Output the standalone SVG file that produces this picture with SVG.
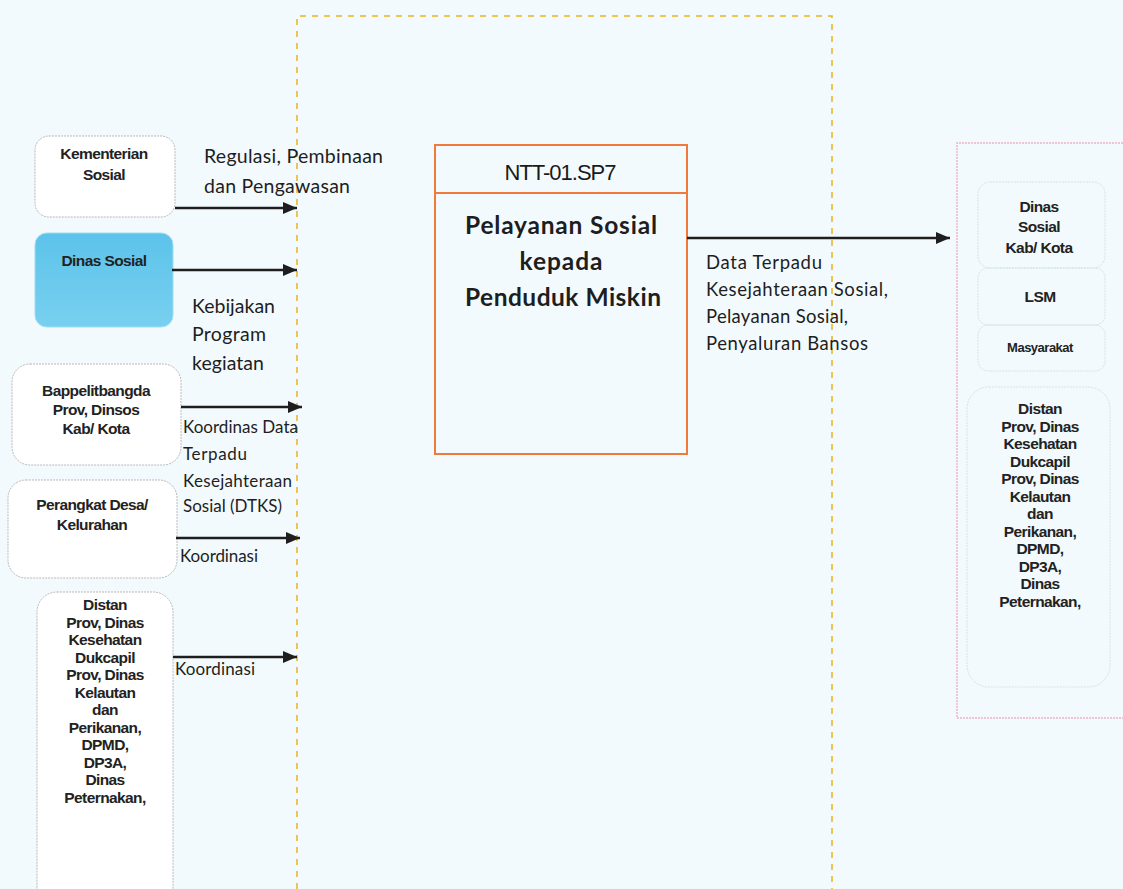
<svg xmlns="http://www.w3.org/2000/svg" width="1123" height="889" viewBox="0 0 1123 889">
  <defs>
    <marker id="arrow" viewBox="0 0 14 12" refX="14" refY="6" markerWidth="14" markerHeight="12" markerUnits="userSpaceOnUse" orient="auto">
      <path d="M0,0 L14,6 L0,12 Z" fill="#1e1e1e"/>
    </marker>
    <linearGradient id="blueFill" x1="0" y1="0" x2="0" y2="1">
      <stop offset="0" stop-color="#5cc3ea"/>
      <stop offset="1" stop-color="#78d0ef"/>
    </linearGradient>
  </defs>
  <style>
    .actor { fill: #ffffff; stroke: #b9b9b9; stroke-width: 1; stroke-dasharray: 2 1; }
    .actor-blue { fill: url(#blueFill); stroke: #9fdcf2; stroke-width: 1; }
    .sub { fill: none; stroke: #d3e3e8; stroke-width: 1; stroke-dasharray: 2 1; }
    .node-text { font-family: "Liberation Sans", Arial, sans-serif; font-size: 15.5px; fill: #222; text-anchor: middle; letter-spacing: -0.6px; font-weight: bold; }
    .label { font-family: Lato, "Open Sans", sans-serif; fill: #1e1e1e; }
    .conn { stroke: #1e1e1e; stroke-width: 2.5; fill: none; marker-end: url(#arrow); }
  </style>

  <!-- page background -->
  <rect x="0" y="0" width="1123" height="889" fill="#f3fafd"/>

  <!-- system boundary -->
  <g id="boundary">
    <path d="M297,889 L297,16 L832,16 L832,889" fill="none" stroke="#e9b21e" stroke-width="1.5" stroke-dasharray="6 6"/>
  </g>

  <!-- right stakeholder panel -->
  <g id="panel-right">
    <path d="M1123,143 L957,143 L957,718 L1123,718" fill="none" stroke="#efb2c4" stroke-width="1.5" stroke-dasharray="2 1"/>
  </g>

  <!-- left actors -->
  <g id="node-kemensos">
    <rect class="actor" x="35" y="136" width="140" height="81" rx="14"/>
    <text class="node-text" x="104" y="159">Kementerian</text>
    <text class="node-text" x="104" y="180">Sosial</text>
  </g>
  <g id="node-dinsos">
    <rect class="actor-blue" x="35" y="233" width="138" height="94" rx="12"/>
    <text class="node-text" x="104" y="266">Dinas Sosial</text>
  </g>
  <g id="node-bappelitbangda">
    <rect class="actor" x="12" y="364" width="169" height="101" rx="18"/>
    <text class="node-text" x="96" y="396">Bappelitbangda</text>
    <text class="node-text" x="96" y="415">Prov, Dinsos</text>
    <text class="node-text" x="96" y="434">Kab/ Kota</text>
  </g>
  <g id="node-perangkat">
    <rect class="actor" x="8" y="480" width="169" height="98" rx="18"/>
    <text class="node-text" x="92" y="510">Perangkat Desa/</text>
    <text class="node-text" x="92" y="530">Kelurahan</text>
  </g>
  <g id="node-distan-left">
    <rect class="actor" x="37" y="592" width="136" height="320" rx="20"/>
    <g class="node-text">
      <text x="105" y="610">Distan</text>
      <text x="105" y="627.5">Prov, Dinas</text>
      <text x="105" y="645">Kesehatan</text>
      <text x="105" y="662.5">Dukcapil</text>
      <text x="105" y="680">Prov, Dinas</text>
      <text x="105" y="697.5">Kelautan</text>
      <text x="105" y="715">dan</text>
      <text x="105" y="732.5">Perikanan,</text>
      <text x="105" y="750">DPMD,</text>
      <text x="105" y="767.5">DP3A,</text>
      <text x="105" y="785">Dinas</text>
      <text x="105" y="802.5">Peternakan,</text>
    </g>
  </g>

  <!-- central process -->
  <g id="node-process">
    <rect x="435" y="145" width="252" height="309" fill="none" stroke="#f07a3c" stroke-width="2"/>
    <line x1="435" y1="193" x2="687" y2="193" stroke="#f07a3c" stroke-width="2"/>
    <text x="560" y="180" font-family="'Liberation Sans', Arial, sans-serif" font-size="22" text-anchor="middle" fill="#1a1a1a" letter-spacing="-1">NTT-01.SP7</text>
    <g class="label" font-size="24.5" font-weight="bold" text-anchor="middle" fill="#2a2a2a">
      <text x="561" y="234" textLength="192" lengthAdjust="spacing">Pelayanan Sosial</text>
      <text x="561" y="270" textLength="83" lengthAdjust="spacing">kepada</text>
      <text x="563" y="306" textLength="196" lengthAdjust="spacing">Penduduk Miskin</text>
    </g>
  </g>

  <!-- right stakeholders -->
  <g id="node-dinsos-kab">
    <rect class="sub" x="978" y="182" width="127" height="86" rx="12"/>
    <text class="node-text" x="1039" y="212">Dinas</text>
    <text class="node-text" x="1039" y="232">Sosial</text>
    <text class="node-text" x="1039" y="253">Kab/ Kota</text>
  </g>
  <g id="node-lsm">
    <rect class="sub" x="978" y="268" width="127" height="57" rx="10"/>
    <text class="node-text" x="1040" y="302">LSM</text>
  </g>
  <g id="node-masyarakat">
    <rect class="sub" x="978" y="325" width="127" height="46" rx="10"/>
    <text class="node-text" x="1040" y="352" style="font-size:13px;letter-spacing:-0.5px">Masyarakat</text>
  </g>
  <g id="node-distan-right">
    <rect class="sub" x="967" y="387" width="143" height="300" rx="22"/>
    <g class="node-text">
      <text x="1040" y="414">Distan</text>
      <text x="1040" y="431.5">Prov, Dinas</text>
      <text x="1040" y="449">Kesehatan</text>
      <text x="1040" y="466.5">Dukcapil</text>
      <text x="1040" y="484">Prov, Dinas</text>
      <text x="1040" y="501.5">Kelautan</text>
      <text x="1040" y="519">dan</text>
      <text x="1040" y="536.5">Perikanan,</text>
      <text x="1040" y="554">DPMD,</text>
      <text x="1040" y="571.5">DP3A,</text>
      <text x="1040" y="589">Dinas</text>
      <text x="1040" y="606.5">Peternakan,</text>
    </g>
  </g>

  <!-- connectors -->
  <g id="connectors">
    <line class="conn" x1="175" y1="208" x2="297" y2="208"/>
    <line class="conn" x1="172" y1="270" x2="297" y2="270"/>
    <line class="conn" x1="181" y1="407" x2="302" y2="407"/>
    <line class="conn" x1="176" y1="538" x2="300" y2="538"/>
    <line class="conn" x1="173" y1="657" x2="297" y2="657"/>
    <line class="conn" x1="687" y1="238" x2="950" y2="238"/>
  </g>

  <!-- connector labels -->
  <g id="labels" class="label">
    <g font-size="19.5">
      <text x="204" y="163" textLength="179" lengthAdjust="spacing">Regulasi, Pembinaan</text>
      <text x="204" y="193" textLength="146" lengthAdjust="spacing">dan Pengawasan</text>
      <text x="192" y="313" textLength="83" lengthAdjust="spacing">Kebijakan</text>
      <text x="192" y="341" textLength="74" lengthAdjust="spacing">Program</text>
      <text x="192" y="370" textLength="72" lengthAdjust="spacing">kegiatan</text>
    </g>
    <g font-size="17">
      <text x="183" y="433" textLength="115" lengthAdjust="spacing">Koordinas Data</text>
      <text x="183" y="460" textLength="64" lengthAdjust="spacing">Terpadu</text>
      <text x="183" y="487" textLength="109" lengthAdjust="spacing">Kesejahteraan</text>
      <text x="183" y="512" textLength="99" lengthAdjust="spacing">Sosial (DTKS)</text>
      <text x="180" y="562" textLength="78" lengthAdjust="spacing">Koordinasi</text>
      <text x="175" y="675" textLength="80" lengthAdjust="spacing">Koordinasi</text>
    </g>
    <g font-size="18.5">
      <text x="706" y="269" textLength="116" lengthAdjust="spacing">Data Terpadu</text>
      <text x="706" y="296" textLength="182" lengthAdjust="spacing">Kesejahteraan Sosial,</text>
      <text x="706" y="323" textLength="142" lengthAdjust="spacing">Pelayanan Sosial,</text>
      <text x="706" y="350" textLength="162" lengthAdjust="spacing">Penyaluran Bansos</text>
    </g>
  </g>
</svg>
